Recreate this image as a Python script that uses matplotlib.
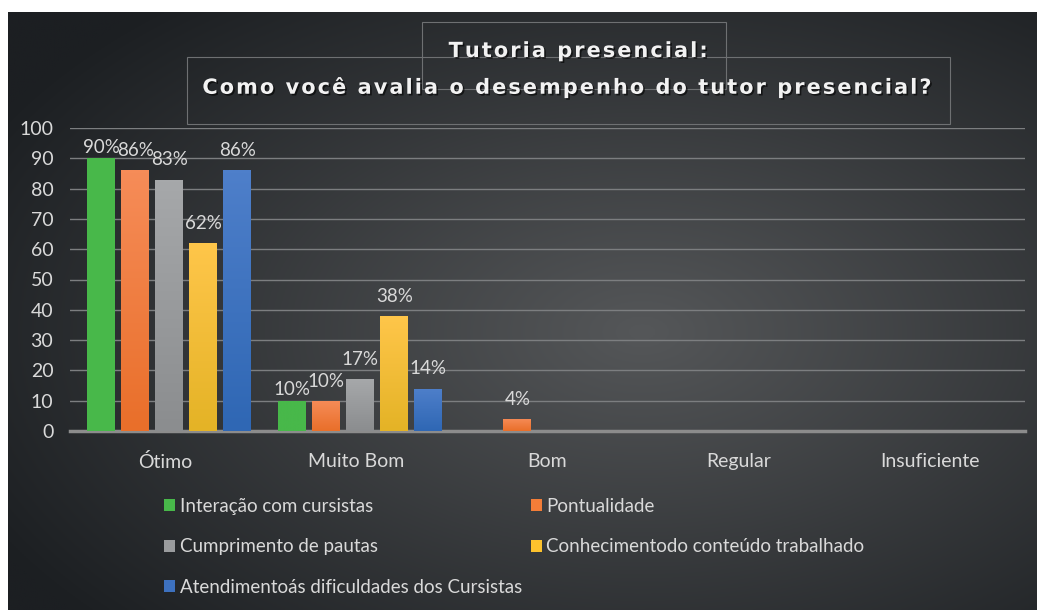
import numpy as np
import matplotlib.pyplot as plt
import matplotlib.patheffects as pe
from matplotlib.patches import Rectangle
from matplotlib.colors import LinearSegmentedColormap

# dados do gráfico
categorias = ['Ótimo', 'Muito Bom', 'Bom', 'Regular', 'Insuficiente']
series = ['Interação com cursistas', 'Pontualidade', 'Cumprimento de pautas',
          'Conhecimentodo conteúdo trabalhado', 'Atendimentoás dificuldades dos Cursistas']
interacao = [90, 10, 0, 0, 0]
pontualidade = [86, 10, 4, 0, 0]
cumprimento = [83, 17, 0, 0, 0]
conhecimento = [62, 38, 0, 0, 0]
atendimento = [86, 14, 0, 0, 0]
valores = [interacao, pontualidade, cumprimento, conhecimento, atendimento]
cores = ['#48b84a', '#f37d38', '#9a9c9e', '#fdc22d', '#3d71bf']
# topo / base do gradiente de cada barra
cores_topo = ['#48b84a', '#f68c58', '#a6a8aa', '#ffc64a', '#4e7fca']
cores_base = ['#48b84a', '#e96f2a', '#8b8d8f', '#e4b326', '#2f67b4']

plt.rcParams['font.family'] = ['Lato', 'DejaVu Sans']

fig = plt.figure(figsize=(10.37, 6.10), dpi=100)
fig.patch.set_facecolor('white')

# painel escuro com gradiente radial
bg = fig.add_axes([8 / 1037, 0, 1029 / 1037, 598 / 610])
yy, xx = np.mgrid[0:300, 0:520]
d = np.sqrt(((xx - 320) / 520) ** 2 + ((yy - 160) / 300) ** 2)
d = np.clip(d / 0.72, 0, 1)
c0 = np.array([0x55, 0x57, 0x59]) / 255
c1 = np.array([0x1c, 0x1f, 0x22]) / 255
img = c0[None, None, :] * (1 - d[..., None]) + c1[None, None, :] * d[..., None]
bg.imshow(img, aspect='auto', extent=[0, 1, 0, 1], origin='upper')
bg.set_xlim(0, 1)
bg.set_ylim(0, 1)
bg.axis('off')

# caixas finas do título
for (x0, y0, x1, y1) in [(422, 22, 726, 89), (187, 57, 950, 124)]:
    fig.patches.append(Rectangle((x0 / 1037, 1 - y1 / 610), (x1 - x0) / 1037, (y1 - y0) / 610,
                                 transform=fig.transFigure, fill=False,
                                 edgecolor='#6e7072', linewidth=0.8))

def espacar(s):
    return '\u200a'.join(s)

for txt, xp, yp in [('Tutoria presencial:', 579, 51),
                    ('Como você avalia o desempenho do tutor presencial?', 569, 87)]:
    t = fig.text(xp / 1037, 1 - yp / 610, espacar(txt),
                 ha='center', va='center', color='#f2f2f2', fontsize=15, fontweight='bold',
                 family=['DejaVu Sans'])
    t.set_path_effects([pe.SimplePatchShadow(offset=(1.2, -1.2), shadow_rgbFace='black', alpha=0.6),
                        pe.Normal()])

ax = fig.add_axes([70 / 1037, 1 - 431 / 610, 955 / 1037, 303 / 610])
ax.patch.set_alpha(0)
ax.set_xlim(-0.5, 4.5)
ax.set_ylim(0, 100)

x = np.arange(len(categorias))
largura = 0.145
passo = 0.178
grad = np.linspace(1, 0, 64).reshape(-1, 1)
for i, (nome, vals, cor) in enumerate(zip(series, valores, cores)):
    pos = x + (i - 2) * passo + 0.02
    bars = ax.bar(pos, vals, largura, color=cor, label=nome, zorder=3)
    cmap = LinearSegmentedColormap.from_list('g', [cores_base[i], cores_topo[i]])
    dy = 2 if i == 0 else 8
    for b, v in zip(bars, vals):
        if v > 0:
            bx = b.get_x()
            im = ax.imshow(grad, cmap=cmap, vmin=0, vmax=1, aspect='auto', zorder=3.5,
                           extent=[bx, bx + b.get_width(), 0, v], interpolation='bilinear')
            im.set_clip_path(b)
            ax.annotate(f'{v}%', (bx + b.get_width() / 2, v),
                        xytext=(0, dy), textcoords='offset points',
                        ha='center', va='bottom', color='#d9d9d9', fontsize=13.5)

ax.set_xlim(-0.5, 4.5)
ax.set_ylim(0, 100)
ax.set_yticks(np.arange(0, 101, 10))
ax.set_xticks(x)
ax.set_xticklabels(categorias)
ax.tick_params(axis='both', length=0, colors='#d9d9d9', labelsize=14)
ax.tick_params(axis='x', pad=16)
ax.tick_params(axis='y', pad=12)
ax.grid(axis='y', color='#7c7e80', linewidth=1, zorder=0)
for s in ['top', 'right', 'left']:
    ax.spines[s].set_visible(False)
ax.spines['bottom'].set_color('#8c8c8c')
ax.spines['bottom'].set_linewidth(2.5)

# legenda
handles, labels = ax.get_legend_handles_labels()
ordem = [0, 2, 4, 1, 3]
leg = fig.legend([handles[k] for k in ordem], [labels[k] for k in ordem],
                 loc='upper left', bbox_to_anchor=(147 / 1037, 1 - 481 / 610),
                 ncol=2, frameon=False, fontsize=13.5, labelcolor='#d9d9d9',
                 handlelength=0.6, handleheight=0.6, handletextpad=0.25,
                 columnspacing=0.45, labelspacing=1.25)

fig.savefig('out.png', dpi=100, facecolor='white')
